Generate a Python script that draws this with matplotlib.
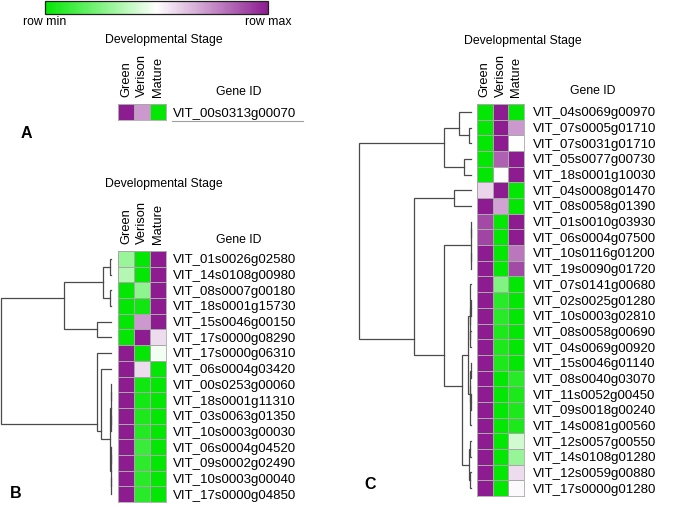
import numpy as np
import matplotlib
matplotlib.use("Agg")
import matplotlib.pyplot as plt
from matplotlib.colors import LinearSegmentedColormap
from matplotlib.lines import Line2D
import matplotlib.cm as cm

plt.rcParams['font.family'] = ['Liberation Sans', 'DejaVu Sans']

# ---------------- data ----------------
stages = ["Green", "Verison", "Mature"]

genes_a = ["VIT_00s0313g00070"]
vals_a = [[1.0, 0.45, -1.0]]

genes_b = ["VIT_01s0026g02580", "VIT_14s0108g00980", "VIT_08s0007g00180",
           "VIT_18s0001g15730", "VIT_15s0046g00150", "VIT_17s0000g08290",
           "VIT_17s0000g06310", "VIT_06s0004g03420", "VIT_00s0253g00060",
           "VIT_18s0001g11310", "VIT_03s0063g01350", "VIT_10s0003g00030",
           "VIT_06s0004g04520", "VIT_09s0002g02490", "VIT_10s0003g00040",
           "VIT_17s0000g04850"]
vals_b = [[-0.40, -1.00, 1.00],
          [-0.30, -1.00, 1.00],
          [-1.00, -0.45, 1.00],
          [-1.00, -0.95, 1.00],
          [-1.00, 0.45, 1.00],
          [-1.00, 1.00, 0.15],
          [1.00, -1.00, -0.05],
          [1.00, 0.15, -1.00],
          [1.00, -0.95, -1.00],
          [1.00, -0.93, -1.00],
          [1.00, -0.90, -1.00],
          [1.00, -0.88, -1.00],
          [1.00, -0.78, -1.00],
          [1.00, -0.83, -1.00],
          [1.00, -0.85, -1.00],
          [1.00, -0.85, -1.00]]
# dendrogram merges (left, right, height) ; nodes numbered n, n+1, ...
link_b = [(0, 1, 0.005), (2, 3, 0.01), (16, 17, 0.072), (4, 5, 0.126),
          (18, 19, 0.423),
          (8, 9, 0.002), (10, 11, 0.002), (12, 13, 0.003), (14, 15, 0.002),
          (21, 22, 0.004), (23, 24, 0.004), (25, 26, 0.006),
          (7, 27, 0.09), (6, 28, 0.126), (20, 29, 1.0)]

genes_c = ["VIT_04s0069g00970", "VIT_07s0005g01710", "VIT_07s0031g01710",
           "VIT_05s0077g00730", "VIT_18s0001g10030", "VIT_04s0008g01470",
           "VIT_08s0058g01390", "VIT_01s0010g03930", "VIT_06s0004g07500",
           "VIT_10s0116g01200", "VIT_19s0090g01720", "VIT_07s0141g00680",
           "VIT_02s0025g01280", "VIT_10s0003g02810", "VIT_08s0058g00690",
           "VIT_04s0069g00920", "VIT_15s0046g01140", "VIT_08s0040g03070",
           "VIT_11s0052g00450", "VIT_09s0018g00240", "VIT_14s0081g00560",
           "VIT_12s0057g00550", "VIT_14s0108g01280", "VIT_12s0059g00880",
           "VIT_17s0000g01280"]
vals_c = [[-1.00, 1.00, -1.00],
          [-1.00, 1.00, 0.45],
          [-1.00, 1.00, 0.00],
          [-1.00, 0.70, 1.00],
          [-1.00, 0.00, 1.00],
          [0.18, 1.00, -1.00],
          [1.00, 0.40, -1.00],
          [0.80, -1.00, 1.00],
          [0.82, -1.00, 1.00],
          [1.00, -1.00, 0.60],
          [1.00, -1.00, 0.80],
          [1.00, -0.50, -1.00],
          [1.00, -0.85, -1.00],
          [1.00, -0.85, -1.00],
          [1.00, -0.90, -1.00],
          [1.00, -0.90, -1.00],
          [1.00, -0.90, -1.00],
          [1.00, -1.00, -0.85],
          [1.00, -1.00, -0.90],
          [1.00, -1.00, -0.90],
          [1.00, -1.00, -0.90],
          [1.00, -1.00, -0.18],
          [1.00, -1.00, -0.42],
          [1.00, -1.00, 0.15],
          [1.00, -1.00, 0.03]]
link_c = [(1, 2, 0.018), (0, 25, 0.107), (3, 4, 0.0625), (26, 27, 0.241),
          (5, 6, 0.152),
          (7, 8, 0.002), (9, 10, 0.003), (30, 31, 0.004),
          (12, 13, 0.004), (14, 15, 0.005), (33, 34, 0.008), (11, 35, 0.012),
          (16, 17, 0.003), (18, 19, 0.004), (37, 38, 0.006), (39, 20, 0.008),
          (36, 40, 0.027),
          (21, 22, 0.008), (23, 24, 0.006), (42, 43, 0.018),
          (41, 44, 0.083), (32, 45, 0.241), (29, 46, 0.509), (28, 47, 1.0)]

# ---------------- layout helpers ----------------
W, H = 677, 507
fig = plt.figure(figsize=(W / 100, H / 100), dpi=100)


def rect(x0, y0, x1, y1):
    return [x0 / W, 1 - y1 / H, (x1 - x0) / W, (y1 - y0) / H]


def fx(x):
    return x / W


def fy(y):
    return 1 - y / H


cmap = LinearSegmentedColormap.from_list("gwp", ["#04E604", "#FFFFFF", "#8C1C90"])
grid_c = "#a8a8a8"
dend_c = "#4a4a4a"
lbl_fs = 9.5
col_fs = 9.3
ttl_fs = 8.8


def heatmap(r, genes, vals, label_pad):
    ax = fig.add_axes(rect(*r))
    v = np.array(vals)
    ax.pcolormesh(v, cmap=cmap, vmin=-1, vmax=1, edgecolors=grid_c, linewidth=0.5)
    ax.set_xlim(0, v.shape[1])
    ax.set_ylim(v.shape[0], 0)
    ax.set_xticks(np.arange(v.shape[1]) + 0.5)
    ax.set_xticklabels(stages, rotation=90, fontsize=col_fs)
    ax.xaxis.tick_top()
    ax.set_yticks(np.arange(v.shape[0]) + 0.5)
    ax.set_yticklabels(genes, fontsize=lbl_fs)
    ax.yaxis.tick_right()
    ax.tick_params(axis='both', length=0)
    ax.tick_params(axis='x', pad=5.2)
    ax.tick_params(axis='y', pad=label_pad)
    for s in ax.spines.values():
        s.set_color(grid_c)
        s.set_linewidth(0.6)
    return ax


def dendro(r, merges, n):
    ax = fig.add_axes(rect(*r))
    pos = {i: (0.0, i + 0.5) for i in range(n)}
    members = {i: [i] for i in range(n)}
    for k, (a, b, h) in enumerate(merges):
        node = n + k
        xa, ya = pos[a]
        xb, yb = pos[b]
        ax.plot([xa, h, h, xb], [ya, ya, yb, yb], color=dend_c, lw=0.9,
                clip_on=False, solid_joinstyle='miter')
        members[node] = members[a] + members[b]
        pos[node] = (h, float(np.mean([m + 0.5 for m in members[node]])))
    ax.set_xlim(1.0, 0.0)
    ax.set_ylim(n, 0)
    ax.axis('off')
    return ax


# ---------------- colour scale ----------------
cax = fig.add_axes(rect(45, 1, 268, 14))
sm = cm.ScalarMappable(cmap=cmap, norm=plt.Normalize(-1, 1))
cb = fig.colorbar(sm, cax=cax, orientation='horizontal', ticks=[-1, 1])
cb.ax.set_xticklabels(["row min", "row max"], fontsize=ttl_fs)
cb.ax.tick_params(length=0, pad=1.5)
cb.outline.set_edgecolor("#222222")
cb.outline.set_linewidth(0.9)

# ---------------- panel A ----------------
fig.text(fx(164), fy(40), "Developmental Stage", ha='center', va='center', fontsize=ttl_fs)
fig.text(fx(239), fy(92), "Gene ID", ha='center', va='center', fontsize=ttl_fs)
heatmap((118, 104, 166, 120), genes_a, vals_a, 5.0)
fig.add_artist(Line2D([fx(172), fx(303)], [fy(120.5), fy(120.5)], color="#a0a0a0", lw=0.8))
fig.text(fx(21), fy(134), "A", ha='left', va='center', fontsize=11.5, fontweight='bold')

# ---------------- panel B ----------------
fig.text(fx(164), fy(184), "Developmental Stage", ha='center', va='center', fontsize=ttl_fs)
fig.text(fx(239), fy(240), "Gene ID", ha='center', va='center', fontsize=ttl_fs)
heatmap((118, 251, 166, 502), genes_b, vals_b, 5.0)
dendro((0.5, 251, 111, 502), link_b, len(genes_b))
fig.text(fx(10), fy(494), "B", ha='left', va='center', fontsize=11.5, fontweight='bold')

# ---------------- panel C ----------------
fig.text(fx(523), fy(41), "Developmental Stage", ha='center', va='center', fontsize=ttl_fs)
fig.text(fx(593), fy(91), "Gene ID", ha='center', va='center', fontsize=ttl_fs)
heatmap((477, 104, 524, 496), genes_c, vals_c, 6.3)
dendro((359, 104, 471, 496), link_c, len(genes_c))
fig.text(fx(364), fy(484.5), "C", ha='left', va='center', fontsize=11.5, fontweight='bold')

fig.savefig("out.png", dpi=100)
